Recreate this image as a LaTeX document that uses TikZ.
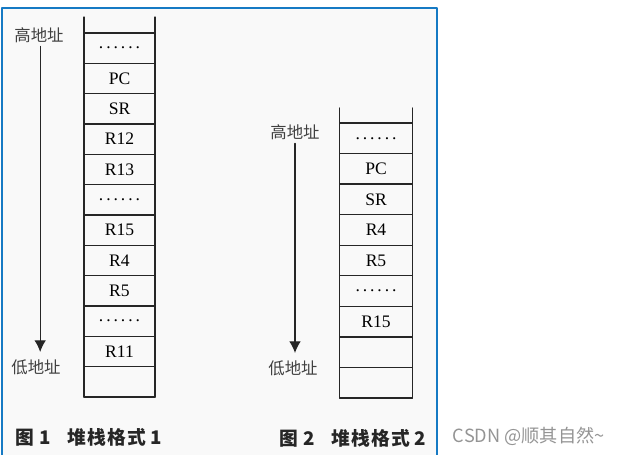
\documentclass[tikz,border=0pt]{standalone}
\usepackage{fontspec}
\setmainfont{Liberation Serif}
\newfontfamily\cjk{Noto Sans CJK SC}
\usetikzlibrary{arrows.meta,positioning,calc}
\definecolor{framecol}{RGB}{22,122,196}
\newcommand{\skipdots}{.\,.\,.\,.\,.\,.}

\begin{document}
\begin{tikzpicture}[x=0.03cm,y=-0.03cm, line cap=round, line join=round,
                    every node/.style={outer sep=0pt}]

  \tikzset{
    frame/.style={draw=framecol, line width=1.1pt},
    cell/.style={draw=black!85, line width=1.1pt, minimum height=0.91cm, inner sep=0pt,
                 anchor=north, font=\fontsize{15}{15}\selectfont},
    side/.style={line width=1.1pt, draw=black!85},
    addr/.style={font=\cjk\fontsize{14}{14}\selectfont, text=black!75},
    down/.style={line width=1.1pt, draw=black!85, shorten >=3pt, -{Latex[length=10pt,width=10pt]}},
    caption/.style={font=\cjk\bfseries\fontsize{16}{16}\selectfont\addfontfeature{LetterSpace=8}, text=black!85}
  }

  \path[use as bounding box] (0,0) rectangle (623,455);
  \fill[black!2.5] (2,8) rectangle (437,470);
  \draw[frame] (2,470) -- (2,8) -- (437,8) -- (437,470);

  % Figure 1
  \foreach \t [count=\i] in {\skipdots,PC,SR,R12,R13,\skipdots,R15,R4,R5,\skipdots,R11,{}}
    \node[cell, minimum width=2.13cm] (a\i) at (119.5,{33+(\i-1)*30.33}) {\t};
  \draw[side] ($(a1.north west)+(0,-16)$) -- (a12.south west);
  \draw[side] ($(a1.north east)+(0,-16)$) -- (a12.south east);

  \node[addr] (hi1) at (39,35) {高地址};
  \node[addr] (lo1) at (36,367) {低地址};
  \draw[down] ([xshift=1pt]hi1.south) -- ([xshift=1pt]hi1.south |- lo1.north);

  \node[caption, anchor=west] (cap1) at (12,437) {图\hspace{4pt}1\hspace{14pt}堆栈格式\hspace{3pt}1};

  % Figure 2
  \foreach \t [count=\i] in {\skipdots,PC,SR,R4,R5,\skipdots,R15,{},{}}
    \node[cell, minimum width=2.19cm, minimum height=0.917cm] (b\i) at (376,{123+(\i-1)*30.56}) {\t};
  \draw[side] ($(b1.north west)+(0,-15)$) -- (b9.south west);
  \draw[side] ($(b1.north east)+(0,-15)$) -- (b9.south east);

  \node[addr] (hi2) at (295,132) {高地址};
  \node[addr] (lo2) at (293,368) {低地址};
  \draw[down] (hi2.south) -- (hi2.south |- lo2.north);

  \node[caption, anchor=west] (cap2) at (276,438) {图\hspace{4pt}2\hspace{14pt}堆栈格式\hspace{3pt}2};

  \node[font=\cjk\fontsize{15.5}{15.5}\selectfont, text=black!42, anchor=west] (mark) at (449,436) {CSDN @顺其自然\textasciitilde};
\end{tikzpicture}
\end{document}
